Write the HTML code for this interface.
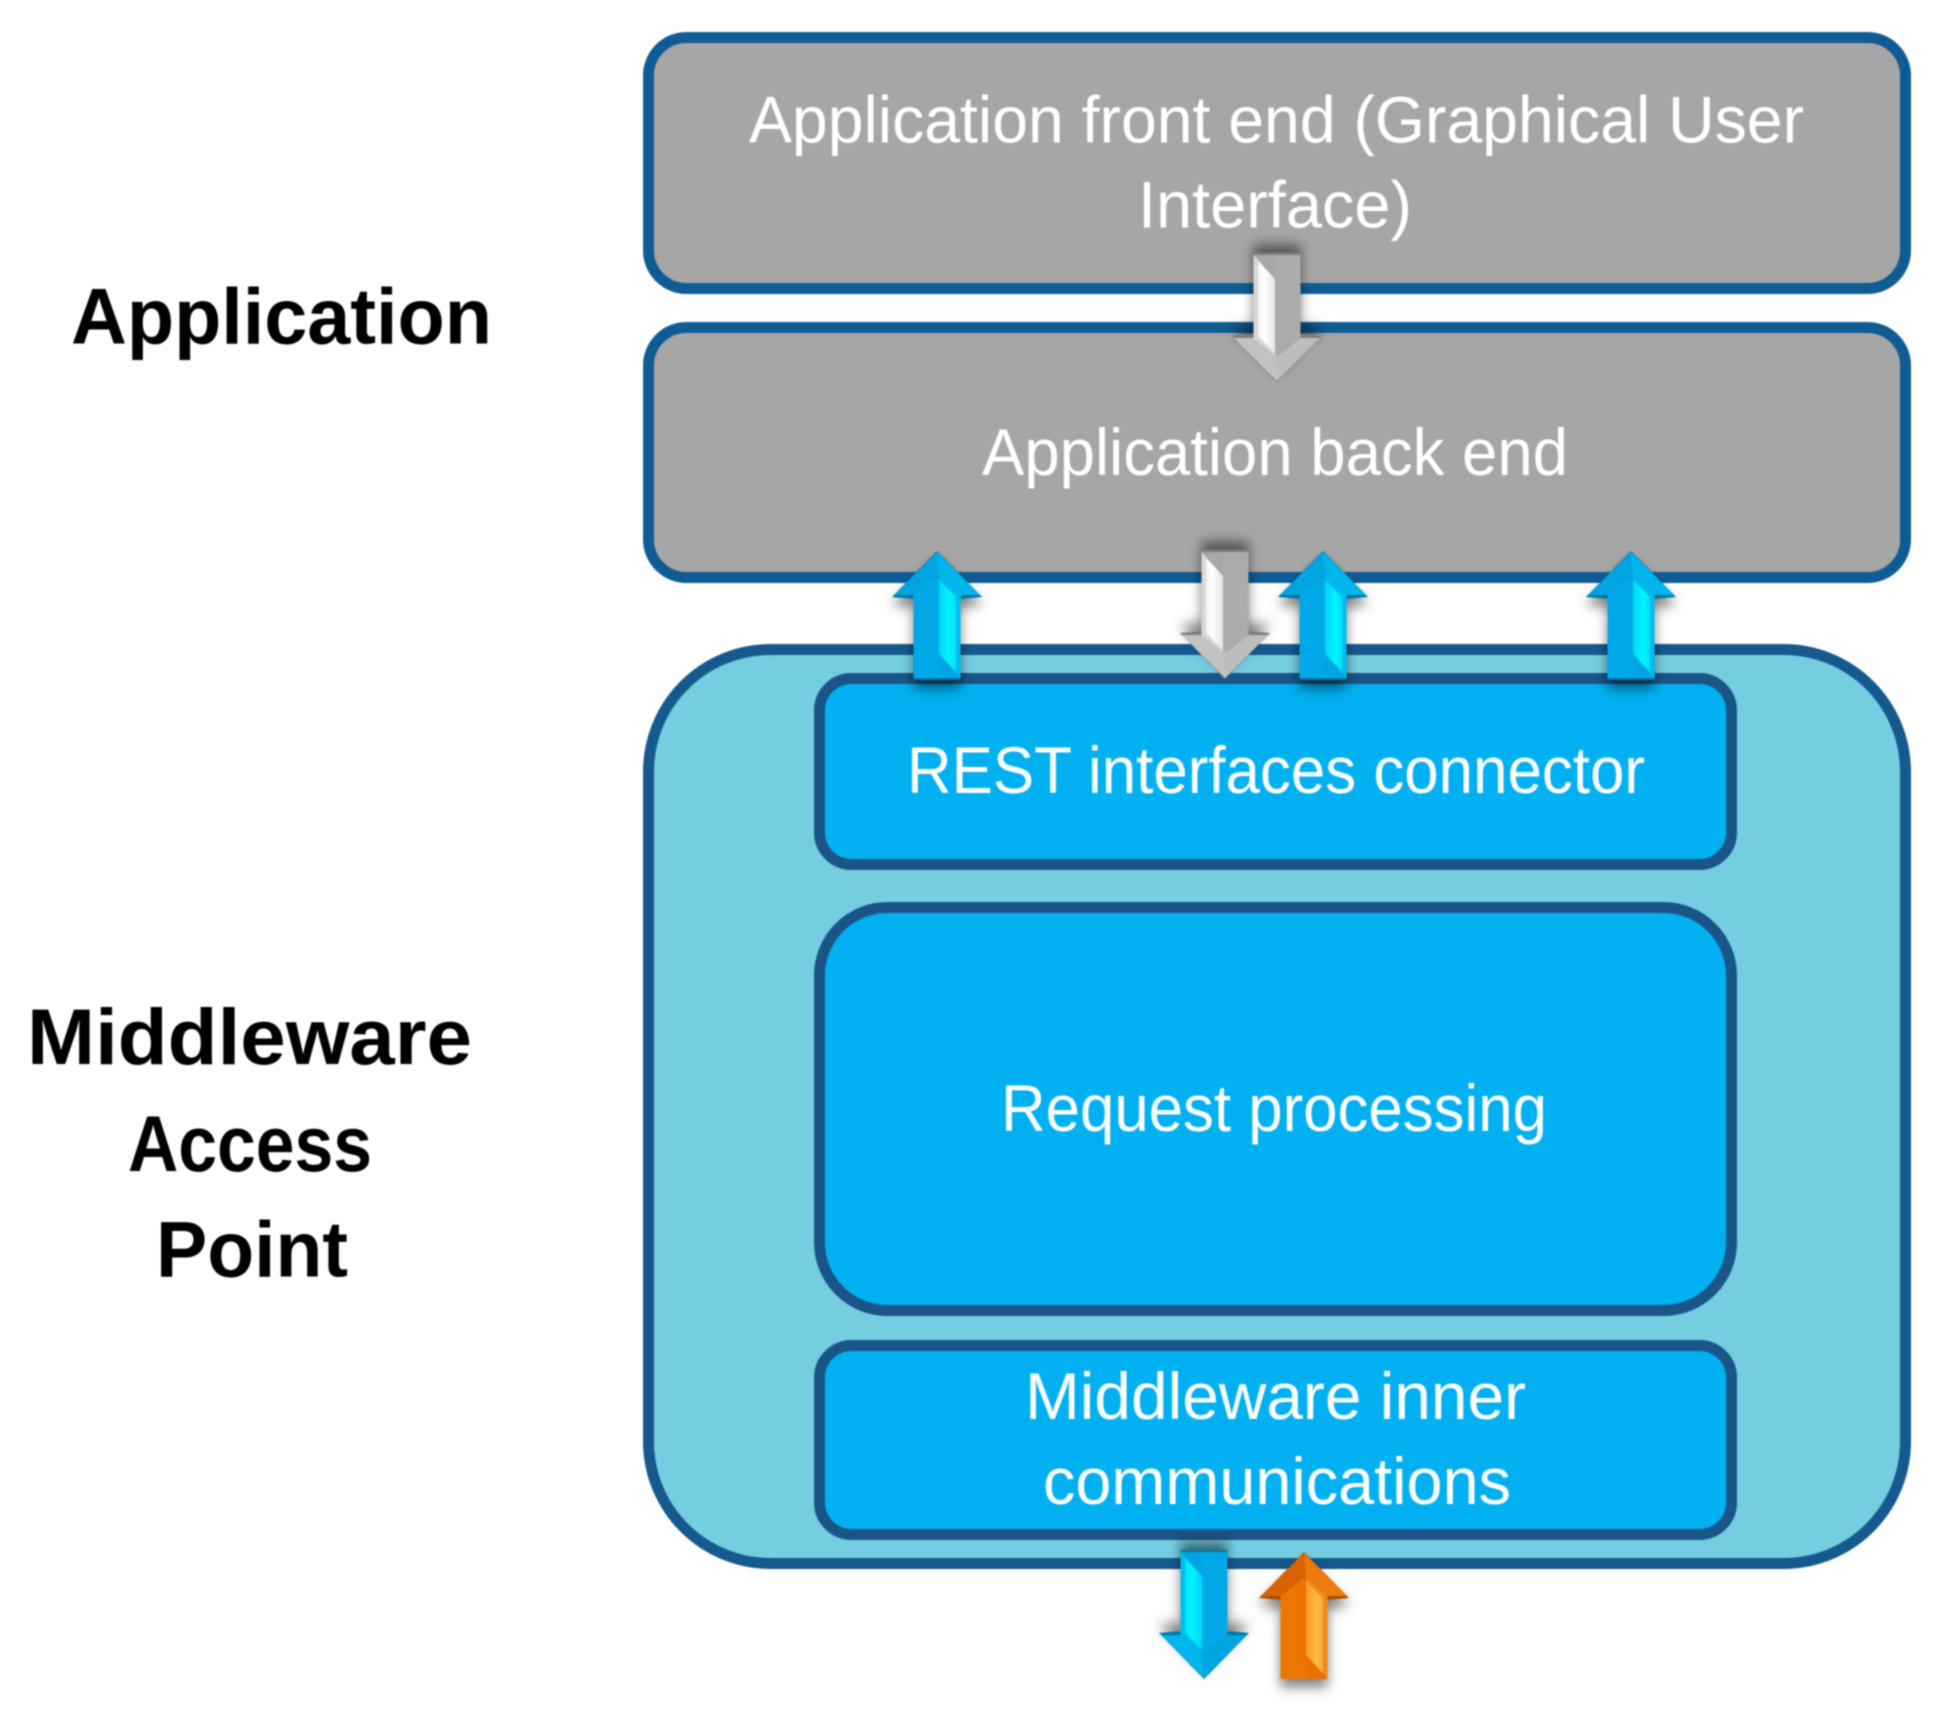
<!DOCTYPE html>
<html>
<head>
<meta charset="utf-8">
<style>
html,body{margin:0;padding:0;background:#fff;width:1942px;height:1717px;overflow:hidden}
svg{display:block;filter:blur(.7px)}
.w{font-family:"Liberation Sans",sans-serif;font-size:66px;fill:#fff;text-anchor:start}
.b{font-family:"Liberation Sans",sans-serif;font-size:79px;font-weight:bold;fill:#000;text-anchor:start}
</style>
</head>
<body>
<svg xmlns="http://www.w3.org/2000/svg" width="1942" height="1717" viewBox="0 0 1942 1717">
<defs>
<filter id="sh" x="-60%" y="-30%" width="220%" height="170%">
<feDropShadow dx="0" dy="8" stdDeviation="6" flood-color="#000" flood-opacity=".5"/>
</filter>
<linearGradient id="hb" x1="0" x2="1" y1="0" y2="0">
<stop offset="0" stop-color="#00d4f8"/><stop offset=".6" stop-color="#00f4ff"/><stop offset="1" stop-color="#00e0fa"/>
</linearGradient>
<linearGradient id="hg" x1="0" x2="1" y1="0" y2="0">
<stop offset="0" stop-color="#e4e4e4"/><stop offset=".6" stop-color="#ffffff"/><stop offset="1" stop-color="#f4f4f4"/>
</linearGradient>
<linearGradient id="ho" x1="0" x2="1" y1="0" y2="0">
<stop offset="0" stop-color="#f8962a"/><stop offset=".6" stop-color="#ffb840"/><stop offset="1" stop-color="#fba832"/>
</linearGradient>
<g id="ab" filter="url(#sh)">
<polygon points="0,-1 45,45 23.5,47 23.5,128 -23.5,128 -23.5,47 -45,45" fill="#00779e"/>
<polygon points="0,0 -43,43 -23.5,43 -2,26 2,26 23.5,43 43,43" fill="#00a4e0"/>
<polygon points="0,0 43,43 20,43 2,26" fill="#00b4ec"/>
<polygon points="-23.5,43 -2,26 2,26 2,126 -23.5,126" fill="#00a8e8"/>
<polygon points="2,26 23.5,43 23.5,126 2,126" fill="#00bcef"/>
<polygon points="2,28 19,45 19,120 2,102" fill="url(#hb)"/>
<polygon points="2,102 23.500,126 2,126" fill="#00a4e2"/>
</g>
<g id="ag" filter="url(#sh)">
<polygon points="0,-1 45,45 23.5,47 23.5,128.500 -23.5,128.500 -23.5,47 -45,45" fill="#7d7d7d"/>
<polygon points="0,0 -43,43 -23.5,43 -2,26 2,26 23.5,43 43,43" fill="#bdbdbd"/>
<polygon points="0,0 43,43 20,43 2,26" fill="#c2c2c2"/>
<polygon points="-23.5,43 -2,26 2,26 2,126 -23.5,126" fill="#ababab"/>
<polygon points="2,26 23.5,43 23.5,126 2,126" fill="#d8d8d8"/>
<polygon points="2,28 19,45 19,120 2,102" fill="url(#hg)"/>
<polygon points="2,102 23.500,126 2,126" fill="#a8a8a8"/>
</g>
<g id="ao" filter="url(#sh)">
<polygon points="0,-1 45,45 23.5,47 23.5,126 -23.5,126 -23.5,47 -45,45" fill="#b04e00"/>
<polygon points="0,0 -43,43 -23.5,43 -2,26 2,26 23.5,43 43,43" fill="#d86400"/>
<polygon points="0,0 43,43 20,43 2,26" fill="#ec7a10"/>
<polygon points="-23.5,43 -2,26 2,26 2,126 -23.5,126" fill="#ec7400"/>
<polygon points="2,26 23.5,43 23.5,126 2,126" fill="#f08a18"/>
<polygon points="2,28 19,45 19,120 2,102" fill="url(#ho)"/>
<polygon points="2,102 23.500,126 2,126" fill="#e87000"/>
</g>
</defs>

<!-- outer boxes -->
<rect x="648.500" y="37.500" width="1257" height="251" rx="38" fill="#a6a6a6" stroke="#0f5c94" stroke-width="11"/>
<rect x="648.500" y="327.500" width="1257" height="250" rx="38" fill="#a6a6a6" stroke="#0f5c94" stroke-width="11"/>
<rect x="648.500" y="649.500" width="1257" height="914" rx="122" fill="#75cde0" stroke="#15598f" stroke-width="11"/>

<!-- inner boxes -->
<rect x="819.500" y="678.500" width="912" height="186" rx="32" fill="#00b0f0" stroke="#1a5588" stroke-width="11"/>
<rect x="819.500" y="907.500" width="912" height="403" rx="68" fill="#00b0f0" stroke="#1a5588" stroke-width="11"/>
<rect x="819.500" y="1345.500" width="912" height="189" rx="32" fill="#00b0f0" stroke="#1a5588" stroke-width="11"/>

<!-- labels -->
<text class="w" x="749" y="142.500" textLength="1055" lengthAdjust="spacingAndGlyphs">Application front end (Graphical User</text>
<text class="w" x="1138" y="227.500" textLength="274" lengthAdjust="spacingAndGlyphs">Interface)</text>
<text class="w" x="982" y="475" textLength="586" lengthAdjust="spacingAndGlyphs">Application back end</text>
<text class="w" x="907" y="793" textLength="738" lengthAdjust="spacingAndGlyphs">REST interfaces connector</text>
<text class="w" x="1001" y="1131" textLength="546" lengthAdjust="spacingAndGlyphs">Request processing</text>
<text class="w" x="1025" y="1419" textLength="501" lengthAdjust="spacingAndGlyphs">Middleware inner</text>
<text class="w" x="1043" y="1504" textLength="468" lengthAdjust="spacingAndGlyphs">communications</text>

<text class="b" x="71" y="343.500" textLength="421" lengthAdjust="spacingAndGlyphs">Application</text>
<text class="b" x="27" y="1064" textLength="445" lengthAdjust="spacingAndGlyphs">Middleware</text>
<text class="b" x="128" y="1171" textLength="244" lengthAdjust="spacingAndGlyphs">Access</text>
<text class="b" x="156" y="1276.500" textLength="192" lengthAdjust="spacingAndGlyphs">Point</text>

<!-- arrows -->
<use href="#ag" transform="translate(1277,381) rotate(180)"/>
<use href="#ab" transform="translate(937,552)"/>
<use href="#ag" transform="translate(1225,678) rotate(180)"/>
<use href="#ab" transform="translate(1323,552)"/>
<use href="#ab" transform="translate(1631,552)"/>
<use href="#ab" transform="translate(1204,1678) rotate(180)"/>
<use href="#ao" transform="translate(1304,1553)"/>
</svg>
</body>
</html>
